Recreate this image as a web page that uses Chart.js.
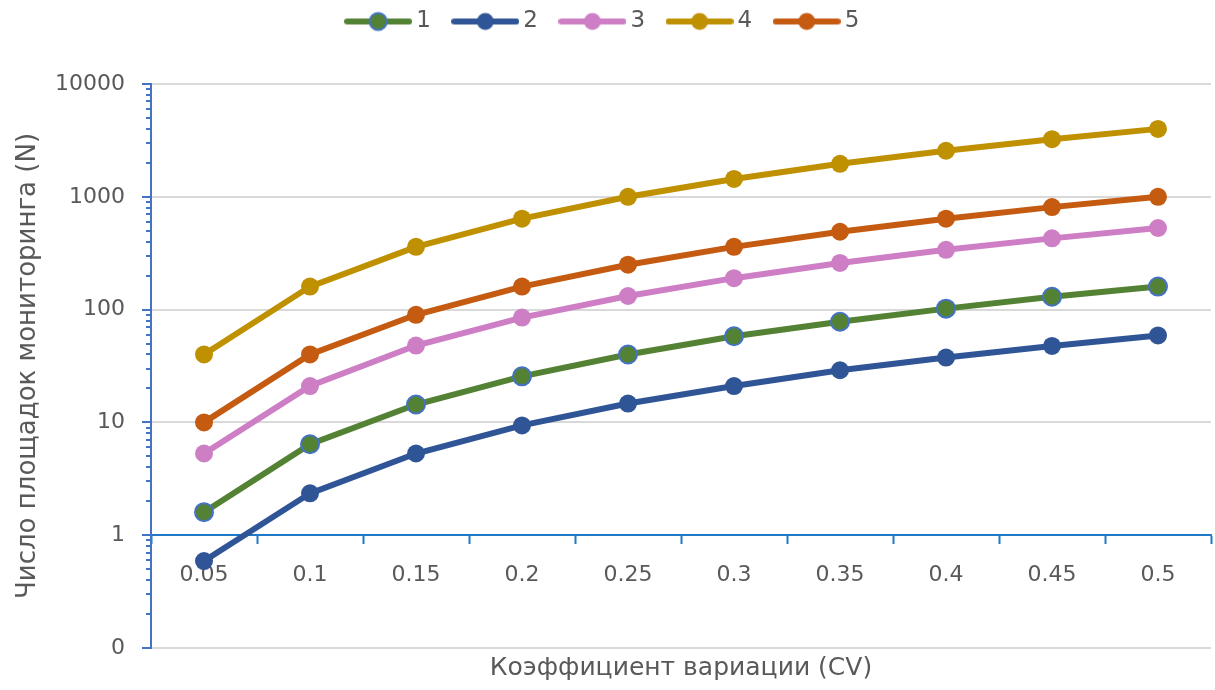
<!DOCTYPE html>
<html>
<head>
<meta charset="utf-8">
<script src="https://cdn.jsdelivr.net/npm/chart.js@4.4.0/dist/chart.umd.min.js"></script>
<style>
html, body { margin: 0; padding: 0; background: #fff; }
</style>
</head>
<body>
<canvas id="cvChart" width="1215" height="690"></canvas>
<script>
// Data
const cvLabels = ['0.05', '0.1', '0.15', '0.2', '0.25', '0.3', '0.35', '0.4', '0.45', '0.5'];
const seriesNames = ['1', '2', '3', '4', '5'];
const series1 = [1.6, 6.4, 14.4, 25.6, 40, 58, 78, 102, 130, 160];
const series2 = [0.59, 2.35, 5.3, 9.4, 14.7, 21, 29, 37.6, 47.6, 59];
const series3 = [5.3, 21, 48, 85, 132, 190, 259, 339, 428, 529];
const series4 = [40, 160, 360, 640, 1000, 1440, 1960, 2560, 3240, 4000];
const series5 = [10, 40, 90, 160, 250, 360, 490, 640, 810, 1000];
const yTickValues = [0.1, 1, 10, 100, 1000, 10000];
const yTickLabels = ['0', '1', '10', '100', '1000', '10000'];

const colors = ['#548235', '#2F5597', '#CD7EC5', '#BF9000', '#C55A11'];
const markerBorders = ['#4472C4', '#2F5597', '#CD7EC5', '#BF9000', '#C55A11'];
const textColor = '#595959';
const yAxisBlue = '#4472C4';
const xAxisBlue = '#1F78C8';
const gridGray = '#D9D9D9';
const fontFamily = '"DejaVu Sans", sans-serif';

// Legend icon: short line with a marker in the middle
function makeLegendIcon(i) {
    const c = document.createElement('canvas');
    c.width = 68;
    c.height = 22;
    const g = c.getContext('2d');
    g.strokeStyle = colors[i];
    g.lineWidth = 6;
    g.lineCap = 'round';
    g.beginPath();
    g.moveTo(3, 11);
    g.lineTo(65, 11);
    g.stroke();
    g.beginPath();
    g.arc(34, 11, 8.5, 0, Math.PI * 2);
    g.fillStyle = colors[i];
    g.fill();
    if (i === 0) {
        g.lineWidth = 2;
        g.strokeStyle = markerBorders[0];
        g.stroke();
    }
    return c;
}
const legendIcons = seriesNames.map((n, i) => makeLegendIcon(i));

// Minor tick marks on the log axis
const minorTicks = {
    id: 'minorTicks',
    afterDraw(chart) {
        const y = chart.scales.y;
        const ctx = chart.ctx;
        ctx.save();
        ctx.strokeStyle = yAxisBlue;
        ctx.lineWidth = 2;
        yTickValues.slice(0, -1).forEach(dec => {
            for (let m = 2; m < 10; m++) {
                const py = Math.round(y.getPixelForValue(dec * m));
                ctx.beginPath();
                ctx.moveTo(y.right - 5, py);
                ctx.lineTo(y.right, py);
                ctx.stroke();
            }
        });
        ctx.restore();
    }
};

// Extra space under the legend
const legendSpacing = {
    id: 'legendSpacing',
    beforeInit(chart) {
        const fit = chart.legend.fit;
        chart.legend.fit = function () {
            fit.bind(chart.legend)();
            this.height += 41;
        };
    }
};

const allSeries = [series1, series2, series3, series4, series5];

const ctx = document.getElementById('cvChart').getContext('2d');
const chart = new Chart(ctx, {
    type: 'line',
    data: {
        labels: cvLabels,
        datasets: allSeries.map((data, i) => ({
            label: seriesNames[i],
            data: data,
            borderColor: colors[i],
            backgroundColor: colors[i],
            borderWidth: 6,
            pointRadius: 9,
            pointHoverRadius: 9,
            pointBackgroundColor: colors[i],
            pointBorderColor: markerBorders[i],
            pointBorderWidth: i === 0 ? 2 : 0,
            tension: 0,
            fill: false,
        })),
    },
    options: {
        responsive: false,
        devicePixelRatio: 1,
        animation: false,
        layout: {
            autoPadding: false,
            padding: { left: 0, right: 4, top: -18, bottom: 1 },
        },
        plugins: {
            legend: {
                position: 'top',
                labels: {
                    usePointStyle: true,
                    pointStyleWidth: 53,
                    padding: 28,
                    color: textColor,
                    font: { family: fontFamily, size: 23 },
                    generateLabels(chart) {
                        const items = Chart.defaults.plugins.legend.labels.generateLabels(chart);
                        items.forEach((it, i) => { it.pointStyle = legendIcons[i]; });
                        return items;
                    },
                },
            },
            title: {
                display: true,
                position: 'bottom',
                fullSize: false,
                text: 'Коэффициент вариации (CV)',
                color: textColor,
                font: { family: fontFamily, size: 25, weight: 'normal' },
                padding: { top: 5, bottom: 6 },
            },
            tooltip: { enabled: false },
        },
        scales: {
            x: {
                type: 'category',
                position: { y: 1 },
                offset: true,
                afterFit(scale) {
                    scale.paddingLeft = 0;
                    scale.paddingRight = 0;
                },
                grid: {
                    drawOnChartArea: false,
                    offset: true,
                    tickColor: xAxisBlue,
                    tickLength: 8,
                    tickWidth: 2,
                },
                border: { color: xAxisBlue, width: 2 },
                ticks: {
                    color: textColor,
                    font: { family: fontFamily, size: 22 },
                    padding: 19,
                    maxRotation: 0,
                },
            },
            y: {
                type: 'logarithmic',
                min: 0.1,
                max: 10000,
                afterBuildTicks(scale) {
                    scale.ticks = yTickValues.map(v => ({ value: v }));
                },
                afterFit(scale) {
                    scale.width = 151;
                },
                grid: {
                    color: gridGray,
                    lineWidth: 2,
                    tickColor: yAxisBlue,
                    tickLength: 9,
                    tickWidth: 2,
                },
                border: { color: yAxisBlue, width: 2 },
                ticks: {
                    color: textColor,
                    font: { family: fontFamily, size: 22 },
                    padding: 17,
                    autoSkip: false,
                    callback: (value, index) => yTickLabels[index],
                },
                title: {
                    display: true,
                    text: 'Число площадок мониторинга (N)',
                    color: textColor,
                    font: { family: fontFamily, size: 26 },
                    padding: { top: 13, bottom: 0 },
                },
            },
        },
    },
    plugins: [minorTicks, legendSpacing],
});
</script>
</body>
</html>
